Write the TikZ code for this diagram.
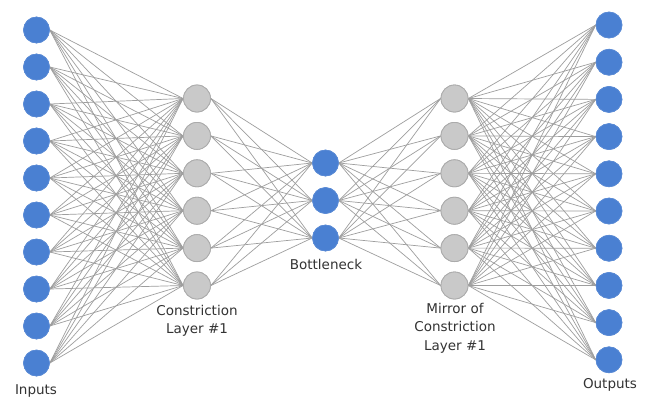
\documentclass[tikz,border=0pt]{standalone}
\usepackage{fontspec}
\setmainfont{DejaVu Sans}
\begin{document}
\begin{tikzpicture}[x=1pt,y=-1pt,
  bluenode/.style={circle,minimum size=26pt,inner sep=0pt,fill=nodeblue,draw=nodeblueedge,line width=0.6pt},
  graynode/.style={circle,minimum size=27pt,inner sep=0pt,fill=nodegray,draw=nodegrayedge,line width=0.8pt},
  link/.style={draw=linkgray,line width=0.7pt},
  caption/.style={font=\fontsize{13.5}{18.5}\selectfont,text=captext,align=center}]
\definecolor{nodeblue}{HTML}{4A80D2}
\definecolor{nodeblueedge}{HTML}{5C8CD6}
\definecolor{nodegray}{HTML}{C9C9C9}
\definecolor{nodegrayedge}{HTML}{ABABAB}
\definecolor{linkgray}{HTML}{9E9E9E}
\definecolor{captext}{HTML}{333333}
\useasboundingbox (0,0) rectangle (654,400);
\fill[white] (0,0) rectangle (654,400);
% layers
\foreach \i in {1,...,10} {
  \node[bluenode] (in\i) at (36.5,{30+(\i-1)*37})  {};
  \node[bluenode] (out\i) at (609,{25+(\i-1)*37.2}) {};
}
\foreach \i in {1,...,6} {
  \node[graynode] (h\i) at (197,{98.5+(\i-1)*37.4}) {};
  \node[graynode] (m\i) at (454.5,{98.5+(\i-1)*37.4}) {};
}
\foreach \i in {1,...,3} {
  \node[bluenode] (b\i) at (325.5,{163+(\i-1)*37.5}) {};
}
% full connections between consecutive layers
\foreach \i in {1,...,10} \foreach \j in {1,...,6} {
  \draw[link] (in\i.east) -- (h\j.west);
  \draw[link] (m\j.east) -- (out\i.west);
}
\foreach \i in {1,...,6} \foreach \j in {1,...,3} {
  \draw[link] (h\i.east) -- (b\j.west);
  \draw[link] (b\j.east) -- (m\i.west);
}
% redraw nodes above the links
\foreach \i in {1,...,10} {
  \node[bluenode] at (in\i) {};
  \node[bluenode] at (out\i) {};
}
\foreach \i in {1,...,6} {
  \node[graynode] at (h\i) {};
  \node[graynode] at (m\i) {};
}
\foreach \i in {1,...,3} \node[bluenode] at (b\i) {};
% captions
\node[caption] (lin) at (36,391) {Inputs};
\node[caption] (lh) at (197,321) {Constriction\\Layer \#1};
\node[caption] (lb) at (326,264) {Bottleneck};
\node[caption] (lm) at (455,328) {Mirror of\\Constriction\\Layer \#1};
\node[caption] (lout) at (610,385) {Outputs};
\end{tikzpicture}
\end{document}
